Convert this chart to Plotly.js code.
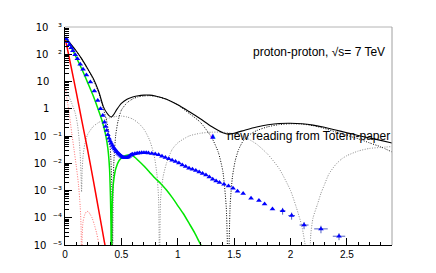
<!DOCTYPE html>
<html><head><meta charset="utf-8">
<script src="https://cdn.plot.ly/plotly-3.0.1.min.js"></script>
<style>html,body{margin:0;padding:0;background:#fff}#chart{width:436px;height:273px}</style>
</head><body><div id="chart"></div>
<script>
// |t| values (GeV^2) and dsigma/dt (mb/GeV^2)
const totalT = [0,0.05,0.1,0.15,0.2,0.25,0.3,0.34,0.37,0.39,0.41,0.43,0.46,0.5,0.55,0.6,0.65,0.7,0.75,0.8,0.9,1.0,1.1,1.2,1.3,1.4,1.45,1.5,1.6,1.7,1.8,1.9,2.0,2.1,2.2,2.3,2.4,2.5,2.6,2.7,2.8,2.9];
const totalY = [420,240,132,66,30,13.2,4.2,1.2,0.71,0.56,0.50,0.60,0.95,1.58,2.24,2.69,3.02,3.16,3.16,2.95,2.24,1.41,0.79,0.43,0.224,0.132,0.117,0.126,0.166,0.214,0.257,0.288,0.295,0.282,0.251,0.209,0.166,0.132,0.105,0.085,0.069,0.055];

const blackDotT = [0,0.05,0.1,0.15,0.2,0.25,0.3,0.34,0.37,0.39,0.405,0.415,0.421,0.427,0.435,0.45,0.47,0.5,0.55,0.6,0.65,0.7,0.75,0.8,0.9,1.0,1.1,1.2,1.3,1.36,1.4,1.43,1.448,1.465,1.485,1.51,1.54,1.58,1.63,1.7,1.8,1.9,2.0,2.1,2.2,2.3,2.4,2.5,2.6,2.7,2.8,2.9];
const blackDotY = [410,230,130,65,29,12,3.8,1.0,0.35,0.11,0.02,1.6e-3,1e-6,1.6e-3,1.6e-2,0.11,0.35,0.89,1.66,2.29,2.75,2.95,3.02,2.88,2.24,1.38,0.68,0.32,0.089,0.025,5e-3,2.5e-4,1e-6,3.2e-4,3.2e-3,0.0126,0.032,0.066,0.107,0.158,0.219,0.263,0.282,0.275,0.24,0.19,0.141,0.105,0.079,0.056,0.040,0.026];

const greyT = [0,0.03,0.06,0.09,0.11,0.125,0.135,0.142,0.147,0.152,0.16,0.175,0.2,0.25,0.3,0.35,0.4,0.45,0.5,0.55,0.6,0.65,0.7,0.75,0.79,0.815,0.83,0.838,0.848,0.87,0.9,0.95,1.0,1.1,1.2,1.3,1.4,1.5,1.6,1.7,1.8,1.9,2.0,2.05,2.1,2.14,2.16,2.18,2.2,2.24,2.27,2.3,2.34,2.4,2.45,2.5,2.6,2.7,2.8,2.9];
const greyY = [6.2,3.2,1.58,0.71,0.28,0.079,0.02,4e-3,8.9e-4,5e-3,0.0178,0.05,0.112,0.224,0.316,0.40,0.47,0.52,0.54,0.50,0.42,0.30,0.178,0.071,0.020,4e-3,5e-4,1e-6,5e-4,3.2e-3,0.01,0.032,0.056,0.1,0.126,0.138,0.138,0.12,0.089,0.05,0.021,6.3e-3,1e-3,2.5e-4,5e-5,5e-6,1e-7,2.5e-5,1e-4,3.2e-4,7.9e-4,1.6e-3,4e-3,8.9e-3,0.014,0.019,0.028,0.035,0.038,0.041];

const pinkT = [0,0.02,0.04,0.06,0.08,0.1,0.12,0.135,0.143,0.148,0.153,0.16,0.175,0.19,0.205,0.22,0.24,0.26,0.28,0.295,0.31];
const pinkY = [6.2,2.0,0.56,0.126,0.032,7.9e-3,1.6e-3,2.5e-4,4.0e-5,1e-7,2.5e-5,7.1e-5,1.3e-4,1.66e-4,1.7e-4,1.4e-4,1.0e-4,5.6e-5,2.8e-5,1.4e-5,5e-6];

const redT = [0,0.05,0.1,0.15,0.2,0.25,0.3,0.35,0.37];
const redY = [420,42,4.0,0.35,0.032,2.5e-3,1.8e-4,1.26e-5,4.5e-6];

const greenT = [0,0.05,0.1,0.15,0.2,0.25,0.29,0.33,0.36,0.38,0.395,0.403,0.408,0.411,0.414,0.42,0.43,0.45,0.48,0.52,0.56,0.6,0.65,0.7,0.75,0.8,0.85,0.9,0.95,1.0,1.05,1.1,1.15,1.2,1.25];
const greenY = [420,200,76,28,9.3,3.0,1.07,0.35,0.112,0.035,6.3e-3,6.3e-4,5e-5,1e-7,5e-5,5e-4,2e-3,6.3e-3,0.0126,0.0178,0.020,0.019,0.0126,7.9e-3,4.7e-3,2.8e-3,1.78e-3,1.05e-3,5.6e-4,2.8e-4,1.4e-4,6.3e-5,2.8e-5,1.1e-5,5e-6];

// Totem data points
const dataT = [0.01,0.025,0.04,0.055,0.07,0.09,0.11,0.135,0.16,0.19,0.225,0.26,0.29,0.315,0.335,0.35,0.36,0.37,0.38,0.39,0.40,0.41,0.42,0.43,0.44,0.45,0.46,0.47,0.48,0.49,0.50,0.51,0.52,0.53,0.54,0.55,0.56,0.57,0.58,0.59,0.60,0.62,0.64,0.66,0.68,0.70,0.72,0.74,0.77,0.80,0.83,0.86,0.89,0.92,0.95,0.98,1.01,1.04,1.07,1.10,1.13,1.16,1.19,1.22,1.25,1.28,1.31,1.34,1.37,1.41,1.45,1.49,1.53,1.58,1.65,1.72,1.77,1.84];
const dataY = [372,288,224,174,135,95,68,43,28,17.4,9.5,4.5,2.0,1.0,0.56,0.32,0.224,0.158,0.112,0.083,0.066,0.054,0.045,0.038,0.033,0.0295,0.0263,0.0234,0.0214,0.0195,0.0182,0.017,0.0162,0.0158,0.0158,0.0162,0.017,0.0182,0.0195,0.0204,0.0214,0.0224,0.0234,0.024,0.0245,0.0245,0.0245,0.024,0.0229,0.0219,0.0204,0.0182,0.0162,0.0145,0.0129,0.0117,0.0102,8.7e-3,7.6e-3,6.6e-3,6e-3,5.4e-3,4.8e-3,4.2e-3,3.7e-3,3.1e-3,2.6e-3,2.24e-3,1.95e-3,1.7e-3,1.45e-3,1.2e-3,9.3e-4,7.8e-4,5.2e-4,4.3e-4,3.2e-4,2.1e-4];
const tailT = [1.93,2.01,2.12,2.27,2.43];
const tailY = [1.8e-4,1.2e-4,5.4e-5,3.9e-5,2.1e-5];
const tailErrT = [0.025,0.03,0.04,0.06,0.055];
const tailErrY = [5e-5,3.5e-5,1.6e-5,1.2e-5,6e-6];

const xTickVals = [0,0.5,1,1.5,2,2.5];
const xTickText = ['0','0.5','1','1.5','2','2.5'];
const yTickVals = [1e-5,1e-4,1e-3,1e-2,1e-1,1,10,100,1000];
const yTickText = ['10\u00a0\u00a0\u207b\u2075','10\u00a0\u00a0\u207b\u2074','10\u00a0\u00a0\u207b\u00b3','10\u00a0\u00a0\u207b\u00b2','10\u00a0\u00a0\u207b\u00b9','1\u00a0\u00a0\u00a0\u00a0','10\u00a0\u00a0\u00a0\u00a0','10\u00a0\u00a0\u00a0\u00b2','10\u00a0\u00a0\u00a0\u00b3'];

const yMinor = [];
for (let d = -5; d < 3; d++) for (let m = 2; m <= 9; m++) yMinor.push(m * Math.pow(10, d));

const sp = 'spline';
const traces = [
  {x: greyT, y: greyY, mode:'lines', line:{color:'#8c8c8c', width:1, dash:'1px,1.5px', shape:sp, smoothing:0.6}},
  {x: pinkT, y: pinkY, mode:'lines', line:{color:'#ff7070', width:1, dash:'1px,1.5px', shape:sp, smoothing:0.6}},
  {x: blackDotT, y: blackDotY, mode:'lines', line:{color:'#000', width:1, dash:'1px,1.5px', shape:sp, smoothing:0.6}},
  {x: redT, y: redY, mode:'lines', line:{color:'#ff0000', width:1.5, shape:sp, smoothing:0.6}},
  {x: greenT, y: greenY, mode:'lines', line:{color:'#00e600', width:1.5, shape:sp, smoothing:0.6}},
  {x: totalT, y: totalY, mode:'lines', line:{color:'#000', width:1.1, shape:sp, smoothing:0.6}},
  {x: dataT, y: dataY, mode:'markers', name:'new reading from Totem-paper', marker:{symbol:'triangle-up', size:5, color:'#0000ff'}},
  {x: tailT, y: tailY, mode:'markers', marker:{symbol:'triangle-up', size:5, color:'#0000ff'},
   error_x:{type:'data', array:tailErrT, color:'#5060c0', thickness:1, width:0},
   error_y:{type:'data', array:tailErrY, color:'#5060c0', thickness:1, width:0}}
];

const layout = {
  width:436, height:273,
  margin:{l:65, r:44, t:27, b:28, pad:0},
  paper_bgcolor:'#fff', plot_bgcolor:'#fff',
  showlegend:false,
  font:{family:'Liberation Sans, Arial, sans-serif', size:10, color:'#000'},
  xaxis:{range:[0,2.9], tickmode:'array', tickvals:xTickVals, ticktext:xTickText,
    ticks:'inside', ticklen:7, tickwidth:1, tickcolor:'#000',
    showline:true, linecolor:'#000', linewidth:1, showgrid:false, zeroline:false,
    minor:{ticks:'inside', ticklen:3.5, dtick:0.1, tick0:0, tickcolor:'#000', showgrid:false},
    tickfont:{size:10}},
  yaxis:{type:'log', range:[-5,3], tickmode:'array', tickvals:yTickVals, ticktext:yTickText,
    ticks:'inside', ticklen:7, tickwidth:1, tickcolor:'#000',
    showline:true, linecolor:'#000', linewidth:1, showgrid:false, zeroline:false,
    minor:{ticks:'inside', ticklen:3.5, tickmode:'array', tickvals:yMinor, tickcolor:'#000', showgrid:false},
    tickfont:{size:10, family:'DejaVu Sans, Liberation Sans, sans-serif'}},
  shapes:[
    {type:'line', xref:'paper', yref:'paper', x0:0, x1:1, y0:1, y1:1, line:{color:'#b4b4b4', width:1}},
    {type:'line', xref:'paper', yref:'paper', x0:1, x1:1, y0:0, y1:1, line:{color:'#a0a0a0', width:1}}
  ],
  annotations:[
    {xref:'paper', yref:'paper', x:0.9847, y:0.8876, xanchor:'right', yanchor:'middle', showarrow:false,
     text:'proton-proton, √s= 7 TeV', font:{size:12, family:'Liberation Sans, Arial, sans-serif'}},
    {xref:'paper', yref:'paper', x:0.4526, y:0.5, xanchor:'center', yanchor:'middle', showarrow:false,
     text:'▲', font:{size:7, color:'#0000ff', family:'DejaVu Sans'}},
    {xref:'paper', yref:'paper', x:0.4893, y:0.5, xanchor:'left', yanchor:'middle', showarrow:false,
     text:'new reading from Totem-paper', font:{size:12, family:'Liberation Sans, Arial, sans-serif'}}
  ]
};

Plotly.newPlot('chart', traces, layout, {displayModeBar:false, staticPlot:true});
</script></body></html>
